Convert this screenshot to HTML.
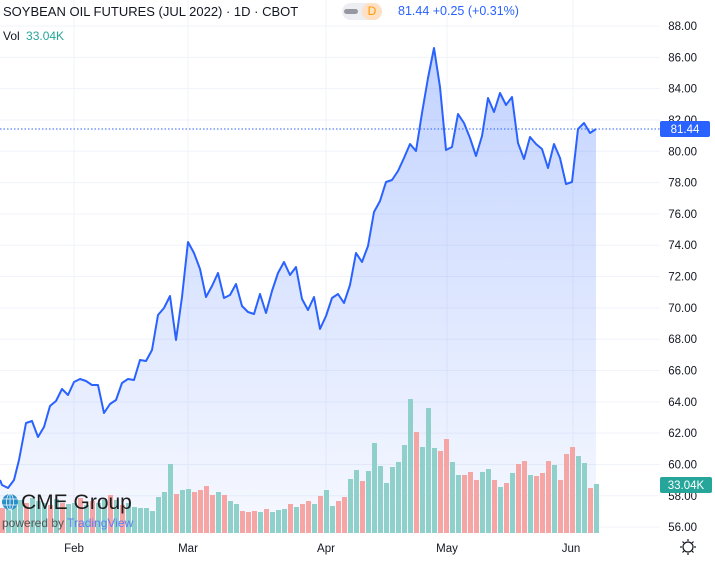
<!DOCTYPE html>
<html><head><meta charset="utf-8"><style>
html,body{margin:0;padding:0;background:#fff;width:715px;height:561px;overflow:hidden;font-family:"Liberation Sans",sans-serif}
</style></head><body>
<svg id="s" width="715" height="561" xmlns="http://www.w3.org/2000/svg" style="position:absolute;left:0;top:0">
<defs><linearGradient id="g" x1="0" y1="0" x2="0" y2="1">
<stop offset="0" stop-color="#2962ff" stop-opacity="0.28"/>
<stop offset="1" stop-color="#2962ff" stop-opacity="0.04"/></linearGradient></defs>
<g id="grid"></g>
<path id="area" fill="url(#g)"/>
<g id="vol"></g>
<polyline id="line" fill="none" stroke="#2962ff" stroke-width="2" stroke-linejoin="round"/>
<line x1="0" y1="129" x2="660" y2="129" stroke="#2962ff" stroke-width="1" stroke-dasharray="1.5,2"/>
<g id="yl" font-size="11.5" fill="#131722" text-anchor="end"></g>
<rect x="660" y="121" width="50" height="16" rx="2" fill="#2962ff"/>
<text x="685" y="133" font-size="11.5" fill="#fff" text-anchor="middle">81.44</text>
<rect x="660" y="477" width="52" height="16" rx="2" fill="#26a69a"/>
<text x="686" y="489" font-size="11.5" fill="#fff" text-anchor="middle">33.04K</text>
<g font-size="11.5" fill="#131722" text-anchor="middle">
<text x="74" y="552">Feb</text><text x="188" y="552">Mar</text><text x="326" y="552">Apr</text><text x="447" y="552">May</text><text x="571" y="552">Jun</text></g>
<circle cx="688" cy="547" r="5" fill="none" stroke="#131722" stroke-width="1.2"/>
<g stroke="#131722" stroke-width="1.2"><line x1="688" y1="539" x2="688" y2="541"/><line x1="688" y1="553" x2="688" y2="555"/><line x1="680" y1="547" x2="682" y2="547"/><line x1="694" y1="547" x2="696" y2="547"/><line x1="682.5" y1="541.5" x2="684" y2="543"/><line x1="692" y1="551" x2="693.5" y2="552.5"/><line x1="682.5" y1="552.5" x2="684" y2="551"/><line x1="692" y1="543" x2="693.5" y2="541.5"/></g>
<circle cx="10" cy="502" r="8" fill="#2a8fc9"/>
<g stroke="#fff" stroke-width="0.7" fill="none"><ellipse cx="10" cy="502" rx="3.5" ry="8"/><line x1="2" y1="499" x2="18" y2="499"/><line x1="2" y1="505" x2="18" y2="505"/><line x1="10" y1="494" x2="10" y2="510"/></g>
<text x="21" y="509" font-size="21" fill="#1e1e1e">CME Group</text>
<text x="2" y="527" font-size="12" fill="#555">powered by <tspan fill="#5b7bf0">TradingView</tspan></text>
</svg>
<div style="position:absolute;left:3px;top:4px;font-size:13px;color:#131722;white-space:nowrap">SOYBEAN OIL FUTURES (JUL 2022) · 1D · CBOT</div>
<div style="position:absolute;left:342px;top:3px;width:40px;height:17px;border-radius:9px;background:#eceef2"></div>
<div style="position:absolute;left:344px;top:9px;width:14px;height:5px;border-radius:3px;background:#9598a1"></div>
<div style="position:absolute;left:362px;top:3px;width:20px;height:17px;border-radius:9px;background:#ffe0c2;color:#ff9800;font-size:12px;line-height:17px;text-align:center">D</div>
<div style="position:absolute;left:398px;top:4px;font-size:12.5px;color:#2962ff;white-space:nowrap">81.44 +0.25 (+0.31%)</div>
<div style="position:absolute;left:3px;top:29px;font-size:12px;color:#131722">Vol <span style="color:#26a69a;margin-left:3px">33.04K</span></div>
<script>
var y=v=>26+(88-v)*15.66,ns="http://www.w3.org/2000/svg";
function el(t,a,p){var e=document.createElementNS(ns,t);for(var k in a)e.setAttribute(k,a[k]);document.getElementById(p).appendChild(e);return e}
for(var v=56;v<=88;v+=2){el('line',{x1:0,x2:660,y1:y(v),y2:y(v),stroke:'#f0f3fa'},'grid');var t=el('text',{x:697,y:y(v)+4},'yl');t.textContent=v.toFixed(2);}
[74,188,326,447,573].forEach(x=>el('line',{x1:x,x2:x,y1:0,y2:533,stroke:'#f0f3fa'},'grid'));
var pts=[[0,480],[2,485],[8,488],[14,480],[19,460],[26,423],[32,421],[38,437],[44,427],[50,406],[56,401],[62,389],[68,395],[74,382],[80,379],[86,381],[92,385],[98,385],[104,413],[110,404],[116,400],[122,383],[128,379],[134,380],[140,360],[146,361],[152,350],[158,315],[164,308],[170,296],[176,340],[182,297],[188,242],[194,253],[200,269],[206,297],[212,286],[218,273],[224,298],[230,295],[236,284],[242,306],[248,312],[254,314],[260,294],[266,313],[272,291],[278,273],[284,262],[290,275],[296,267],[302,299],[308,310],[314,297],[320,329],[326,316],[332,298],[338,294],[344,303],[350,285],[356,253],[362,262],[368,246],[374,212],[380,201],[386,182],[392,180],[398,171],[404,158],[410,144],[416,151],[422,113],[428,78],[434,48],[440,87],[446,150],[452,147],[458,114],[464,123],[470,138],[476,156],[482,136],[488,98],[494,112],[500,93],[506,105],[512,97],[518,143],[524,159],[530,137],[536,144],[542,149],[548,168],[554,144],[560,158],[566,184],[572,182],[578,129],[584,123],[590,133],[596,129]];
var s=pts.map(p=>p.join(',')).join(' ');
document.getElementById('line').setAttribute('points',s);
document.getElementById('area').setAttribute('d','M0,533 L'+s.split(' ').join(' L')+' L596,533 Z');
var V="25r 30t 28t 33t 30r 35t 32t 30t 28r 34t 30r 29t 30t 35r 28t 32r 30t 34t 38r 33t 28r 30t 26t 25t 25t 22t 36t 41t 69t 39r 43t 44t 41r 43r 47r 38r 41t 38r 32t 29t 22r 21r 22r 21t 24r 21t 23t 24t 29r 26t 29r 32r 29t 37r 43t 27t 32r 36r 54t 63t 52r 62t 90t 67t 50t 66t 71t 88t 134t 101r 86t 125t 85t 82r 94r 71t 58t 58r 61r 53r 61t 64t 53r 46t 50r 60t 69r 72r 58t 57r 60r 72r 68t 53r 79r 86r 77t 70t 45r 49t".split(' ');
V.forEach((b,i)=>{var h=parseInt(b),c=b.slice(-1)=='t'?'#8fd1ca':'#f5a5a4';el('rect',{x:6*i,y:533-h,width:5,height:h,fill:c},'vol')});
</script>
</body></html>
